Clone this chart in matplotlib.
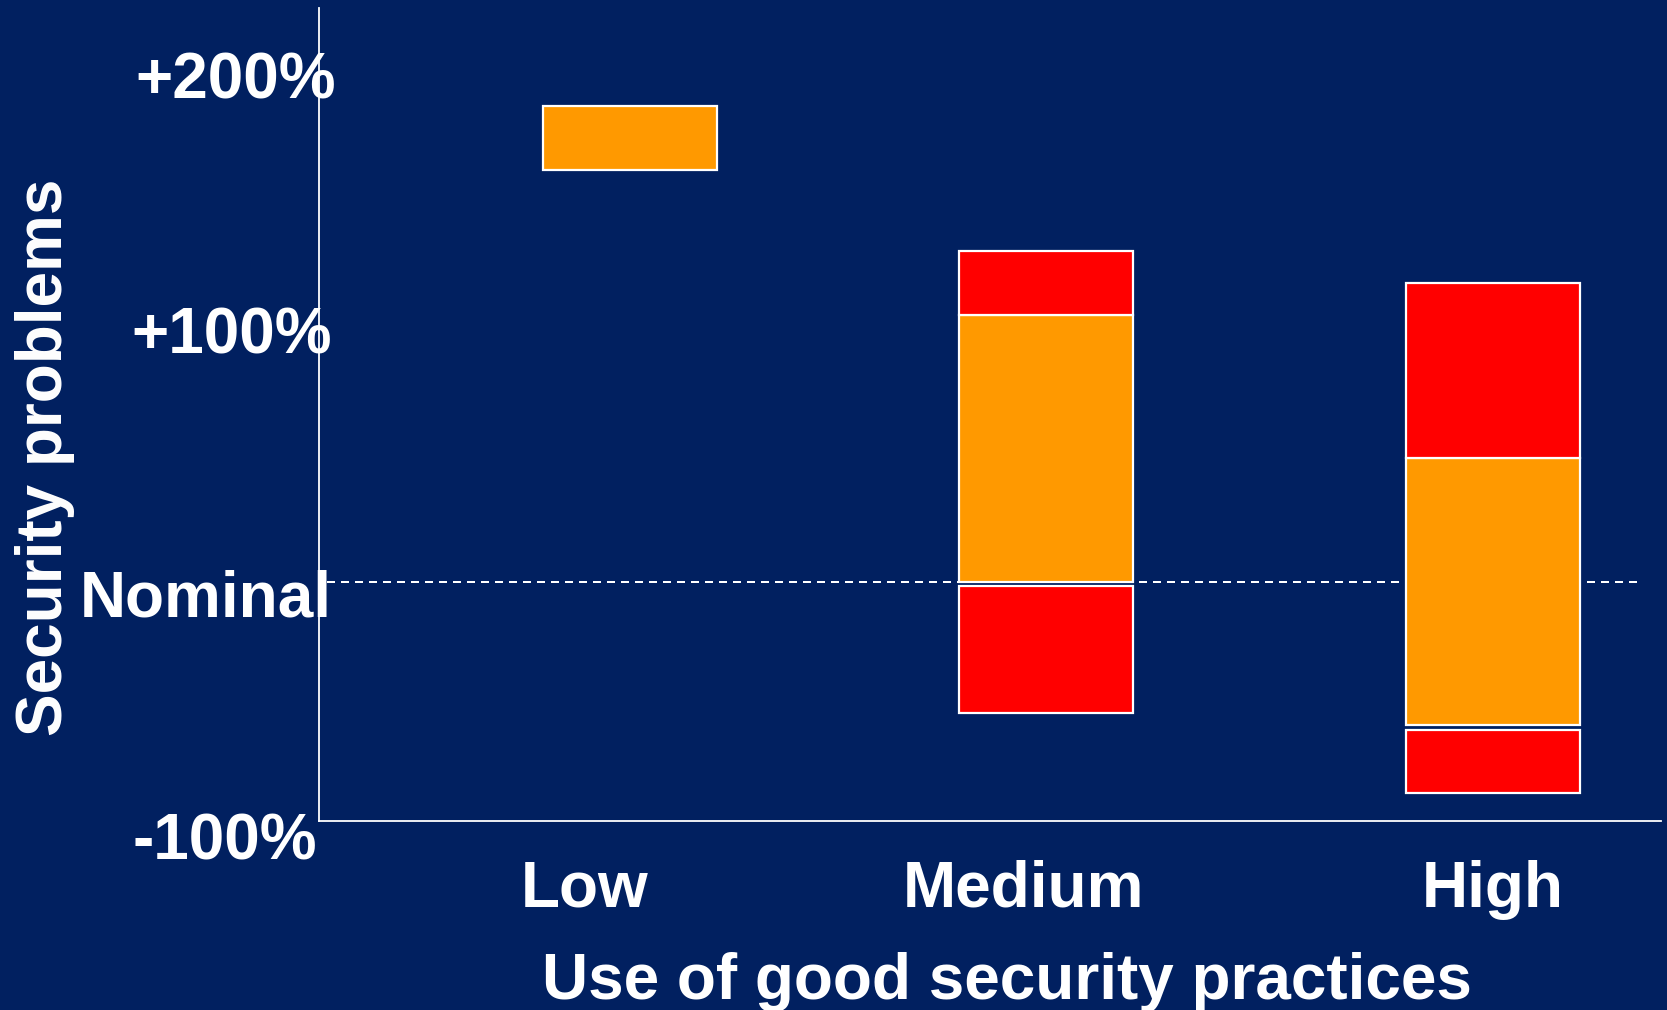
import matplotlib
matplotlib.use("Agg")
import matplotlib.pyplot as plt
import matplotlib.transforms as mtransforms
import numpy as np

# ---- data ----
categories = ["Low", "Medium", "High"]
orange_bottom = [172, 0, -60]
orange_top = [199, 111.5, 51.5]
upper_red_top = [np.nan, 138, 125]
lower_red_top = [np.nan, -2, -62]
lower_red_bottom = [np.nan, -55, -88.5]
ytick_values = [200, 100, 0, -100]
ytick_labels = ["+200%", "+100%", "Nominal", "-100%"]
xlabel = "Use of good security practices"
ylabel = "Security problems"

# ---- layout / style ----
bar_pos = [1.0, 1.978, 3.03]
label_pos = [0.894, 1.926, 3.03]
bar_width = 0.41
NAVY = "#012060"
ORANGE = "#FF9900"
RED = "#FF0000"
FONT = "Liberation Sans"
FS = 46

plt.rcParams["font.family"] = [FONT, "DejaVu Sans"]
plt.rcParams["font.weight"] = "bold"

fig = plt.figure(figsize=(16.67, 10.10), dpi=100, facecolor=NAVY)
ax = fig.add_axes([0.1914, 0.1874, 0.8048, 0.8042], facecolor=NAVY)

ob = np.array(orange_bottom, float)
ot = np.array(orange_top, float)
urt = np.array(upper_red_top, float)
lrt = np.array(lower_red_top, float)
lrb = np.array(lower_red_bottom, float)

bar_kw = dict(width=bar_width, edgecolor="white", linewidth=1.6, zorder=3)
ax.bar(bar_pos, ot - ob, bottom=ob, color=ORANGE, **bar_kw)
ax.bar(bar_pos, urt - ot, bottom=ot, color=RED, **bar_kw)
ax.bar(bar_pos, lrt - lrb, bottom=lrb, color=RED, **bar_kw)

ax.axhline(0, xmin=0.006, xmax=0.986, color="white", linewidth=1.44,
           linestyle=(0, (4, 3)), zorder=1)

ax.set_xlim(0.269, 3.424)
ax.set_ylim(-100, 239.6)

for s in ["top", "right"]:
    ax.spines[s].set_visible(False)
for s in ["left", "bottom"]:
    ax.spines[s].set_color("white")
    ax.spines[s].set_linewidth(1.3)
    ax.spines[s].set_zorder(4)

ax.tick_params(axis="both", length=0, colors="white")
ax.tick_params(axis="y", pad=0)
ax.tick_params(axis="x", pad=62)

ax.set_xticks(label_pos, categories, fontsize=FS, fontweight="bold", color="white")
for lab in ax.get_xticklabels():
    lab.set_va("baseline")

ax.set_yticks(ytick_values, ytick_labels, fontsize=FS, fontweight="bold", color="white")
# pixel offsets of each label (right edge / baseline) relative to its tick
tick_px = [103.1, 342.4, 581.5, 820.7]
base_px = [98, 354, 616.6, 859]
right_dx = [17, 13, 13, -2]
for lab, tp, bp, dx in zip(ax.get_yticklabels(), tick_px, base_px, right_dx):
    lab.set_va("baseline")
    off = mtransforms.ScaledTranslation(dx / 100, -(bp - tp) / 100, fig.dpi_scale_trans)
    lab.set_transform(lab.get_transform() + off)

fig.text(0.604, 0.011, xlabel, ha="center", va="baseline", fontsize=FS,
         fontweight="bold", color="white")
fig.text(0.009, 0.5475, ylabel, ha="left", va="center", rotation=90,
         fontsize=FS, fontweight="bold", color="white")

fig.savefig("out.png", dpi=100, facecolor=NAVY)
